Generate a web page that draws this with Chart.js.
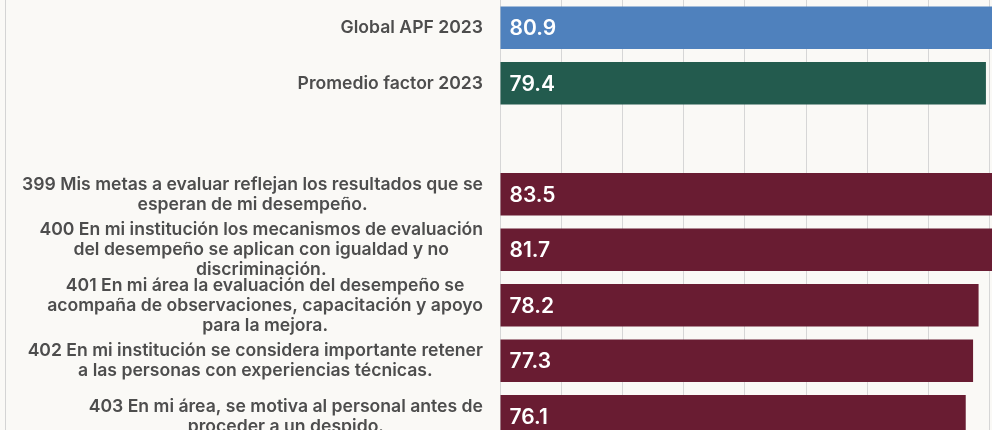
<!DOCTYPE html>
<html>
<head>
<meta charset="utf-8">
<script src="https://cdn.jsdelivr.net/npm/chart.js@4"></script>
<style>
  html, body { margin: 0; padding: 0; background: #faf9f6; overflow: hidden; width: 992px; height: 430px; }
  #wrap { position: absolute; left: 0; top: 0; width: 1112px; height: 444px; }
  #edge { position: absolute; left: 5px; top: 0; width: 1px; height: 430px; background: #d4d4d4; }
</style>
</head>
<body>
<div id="edge"></div>
<div id="wrap"><canvas id="bars" width="1112" height="444"></canvas></div>
<script>
const categories = [
  ['Global APF 2023'],
  ['Promedio factor 2023'],
  [],
  ['399 Mis metas a evaluar reflejan los resultados que se', 'esperan de mi desempeño.'],
  ['400 En mi institución los mecanismos de evaluación', 'del desempeño se aplican con igualdad y no', 'discriminación.'],
  ['401 En mi área la evaluación del desempeño se', 'acompaña de observaciones, capacitación y apoyo', 'para la mejora.'],
  ['402 En mi institución se considera importante retener', 'a las personas con experiencias técnicas.'],
  ['403 En mi área, se motiva al personal antes de', 'proceder a un despido.']
]
const scores = [80.9, 79.4, null, 83.5, 81.7, 78.2, 77.3, 76.1]
const barColors = ['#4f81bd', '#235b4e', '#691c32', '#691c32', '#691c32', '#691c32', '#691c32', '#691c32']
const xTicks = [0, 10, 20, 30, 40, 50, 60, 70, 80, 90, 100]

const labelFont = '600 17.6px Inter'
const lineH = 20

// category labels: block sits right, lines centered inside the block
const sideLabels = {
  id: 'sideLabels',
  afterDraw(chart) {
    const ctx = chart.ctx
    const y = chart.scales.y
    ctx.save()
    ctx.font = labelFont
    ctx.fillStyle = '#4d4d4d'
    ctx.textAlign = 'center'
    ctx.textBaseline = 'middle'
    categories.forEach((lines, i) => {
      if (!lines.length) return
      let w = Math.max(...lines.map(l => ctx.measureText(l).width))
      let cx = y.right - 17 - w / 2
      let cy = y.getPixelForValue(i)
      lines.forEach((l, j) => ctx.fillText(l, cx, cy + (j - (lines.length - 1) / 2) * lineH))
    })
    ctx.restore()
  }
}

// score written inside each bar
const barValues = {
  id: 'barValues',
  afterDatasetsDraw(chart) {
    const ctx = chart.ctx
    const meta = chart.getDatasetMeta(0)
    ctx.save()
    ctx.font = '600 21px Inter'
    ctx.fillStyle = '#ffffff'
    ctx.textAlign = 'left'
    ctx.textBaseline = 'middle'
    meta.data.forEach((bar, i) => {
      if (scores[i] == null) return
      ctx.fillText(scores[i].toFixed(1), bar.base + 9, bar.y + 1)
    })
    ctx.restore()
  }
}

new Chart(document.getElementById('bars'), {
  type: 'bar',
  data: {
    labels: categories.map(c => c.join(' ')),
    datasets: [{
      data: scores,
      backgroundColor: barColors,
      borderWidth: 0,
      barPercentage: 0.77,
      categoryPercentage: 1
    }]
  },
  options: {
    indexAxis: 'y',
    responsive: false,
    animation: false,
    devicePixelRatio: 1,
    layout: { padding: 0 },
    plugins: {
      legend: { display: false },
      tooltip: { enabled: false }
    },
    scales: {
      x: {
        min: 0,
        max: 100,
        afterBuildTicks: (s) => { s.ticks = xTicks.map(v => ({ value: v })) },
        ticks: { display: false },
        grid: { color: '#d6d6d6', lineWidth: 1, drawTicks: false },
        border: { display: false },
        afterFit: (s) => { s.height = 0 }
      },
      y: {
        ticks: { display: false },
        grid: { display: false },
        border: { display: false },
        afterFit: (s) => { s.width = 500 }
      }
    }
  },
  plugins: [sideLabels, barValues]
})
</script>
</body>
</html>
